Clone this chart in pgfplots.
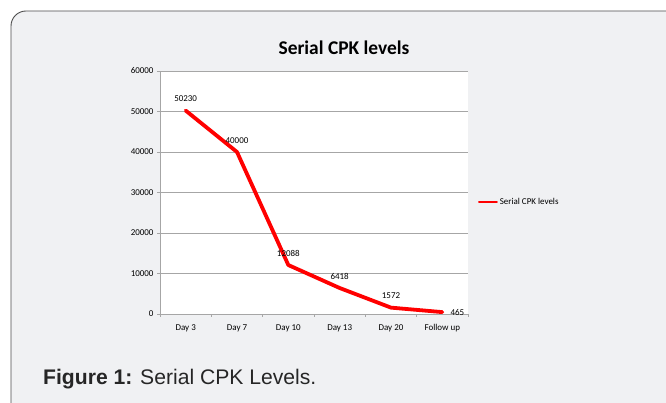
\documentclass[border=0pt]{standalone}
\usepackage{pgfplots}
\pgfplotsset{compat=1.18}
\usepackage{fontspec}
\setmainfont{Liberation Sans}
\newfontfamily\carlito{Carlito}
\definecolor{bgc}{HTML}{F0F1F3}
\definecolor{gridc}{HTML}{A6A6A6}
\begin{document}
\begin{tikzpicture}
\useasboundingbox (0,0) rectangle (666bp,403bp);
\clip (0,0) rectangle (666bp,403bp);
\draw[draw=black!70, fill=bgc, line width=0.9bp, rounded corners=15bp] (11bp,-30bp) rectangle (700bp,392bp);
\node[font=\carlito\bfseries\fontsize{19.5}{22}\selectfont, anchor=base, inner sep=0pt] at (344bp,348bp) {Serial CPK levels};
\node[anchor=base west, inner sep=0pt, font=\fontsize{21.2}{25}\selectfont, text=black!85] at (43bp,19bp) {\textbf{Figure 1:} Serial CPK Levels.};
\begin{axis}[
  at={(160bp,89bp)}, anchor=south west,
  scale only axis, width=308bp, height=243bp,
  xmin=-0.5, xmax=5.5, ymin=0, ymax=60000,
  axis background/.style={fill=white},
  axis lines=left,
  axis line style={gridc, line width=0.8bp, -},
  xtick={-0.5,0.5,...,5.5}, xticklabels={},
  extra x ticks={0,1,2,3,4,5},
  extra x tick labels={Day 3,Day 7,Day 10,Day 13,Day 20,Follow up},
  extra x tick style={major tick length=0pt, xticklabel style={yshift=-7bp}},
  ytick={0,10000,...,60000},
  scaled y ticks=false,
  tick align=outside,
  major tick length=3bp,
  tick style={gridc, line width=0.8bp},
  ymajorgrids,
  grid style={gridc, line width=0.8bp},
  ticklabel style={font=\carlito\fontsize{9}{10}\selectfont},
  /pgf/number format/1000 sep={},
  /pgf/number format/assume math mode=true,
  legend style={draw=none, fill=none, at={(1.032,0.461)}, anchor=west,
    font=\carlito\fontsize{9}{10}\selectfont, inner sep=0pt},
  legend cell align=left,
  legend image code/.code={\draw[red, line width=1.8bp] (0bp,0bp) -- (18bp,0bp);},
  clip=false,
]
\addplot[red, line width=3.8bp, line join=round, line cap=round] table {
x y
0 50230
1 40000
2 12088
3 6418
4 1572
5 465
};
\addlegendentry{Serial CPK levels}
\addplot[draw=none, forget plot, nodes near coords, point meta=explicit symbolic,
  nodes near coords style={font=\carlito\fontsize{9}{10}\selectfont, anchor=south, inner sep=0pt, yshift=8.5bp}]
  table[meta=lab] {
x y lab
0 50230 50230
1 40000 40000
2 12088 12088
3 6418 6418
4 1572 1572
};
\addplot[draw=none, forget plot, nodes near coords, point meta=explicit symbolic,
  nodes near coords style={font=\carlito\fontsize{9}{10}\selectfont, anchor=west, inner sep=0pt, xshift=8bp}]
  table[meta=lab] {
x y lab
5 465 465
};
\end{axis}
\end{tikzpicture}
\end{document}
